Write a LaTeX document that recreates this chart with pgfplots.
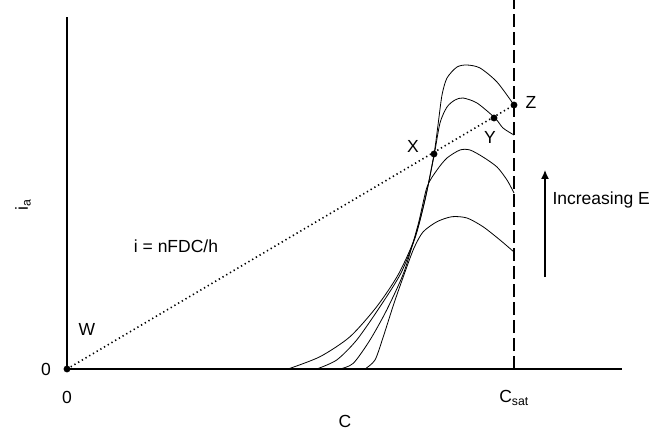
\documentclass[border=0pt]{standalone}
\usepackage{pgfplots}
\pgfplotsset{compat=1.18}
\usetikzlibrary{arrows.meta}
\usepackage{fontspec}
\setmainfont{Liberation Sans}
\newcommand{\lf}{\fontsize{17.5}{20}\selectfont}
\begin{document}
\begin{tikzpicture}
\begin{axis}[
  x=1pt, y=1pt,
  xmin=0, xmax=555, ymin=0, ymax=352,
  axis lines=left,
  axis line style={-, line width=1.6pt},
  ticks=none,
  clip=false,
]
% curves
\addplot[black, line width=0.8pt, smooth, tension=0.45] coordinates {
(221,0) (253,12.3) (283,32.3) (309.7,62.3) (331,94) (347,129) (358,169) (367,215)
(371,244) (375,274) (380,291) (390,302) (400,304) (413,301) (430,287) (447,264)};
\addplot[black, line width=0.8pt, smooth, tension=0.45] coordinates {
(249.7,0) (269.7,9) (289.7,29) (313,62.3) (334,96) (349,134) (359,174) (367,213)
(373,246) (380,262) (388,269) (396,271) (410,266) (428,251) (436,241) (447,234)};
\addplot[black, line width=0.8pt, smooth, tension=0.45] coordinates {
(273,0) (286.3,5.7) (303,29) (319.7,59) (337,97) (351,144) (360,182) (370,199)
(380,211) (393,219) (403,219) (416,212) (430,202) (440,189) (447,176)};
\addplot[black, line width=0.8pt, smooth, tension=0.45] coordinates {
(298,0) (308,9) (316.3,32.3) (327,65.7) (338,97) (347,121) (356,137) (370,147.3)
(385,152.3) (400,151) (416,142.3) (433,129) (447,117)};
% dashed saturation line
\addplot[black, line width=1.6pt, dash pattern=on 13pt off 5pt] coordinates {(447,0) (447,369)};
% dotted line
\addplot[black, line width=1.6pt, dash pattern=on 1.3pt off 3pt] coordinates {(0,0) (447,264)};
% points
\addplot[only marks, mark=*, mark size=3.2pt, black] coordinates {(0,0) (367,215) (427,251) (447,264)};
% arrow
\addplot[black, line width=1.3pt, -{Latex[length=9pt,width=8pt]}] coordinates {(478,92) (478,199)};
% labels
\node[anchor=west, font=\lf] at (axis cs:482,169) {Increasing E};
\node[font=\lf] at (axis cs:109,123) {i = nFDC/h};
\node[font=\lf] at (axis cs:20,40) {W};
\node[font=\lf] at (axis cs:346,223) {X};
\node[font=\lf] at (axis cs:423,232) {Y};
\node[font=\lf] at (axis cs:464,267) {Z};
\node[font=\lf] at (axis cs:-21,0) {0};
\node[font=\lf] at (axis cs:0,-28) {0};
\node[font=\lf] at (axis cs:447,-29) {C\textsubscript{sat}};
\node[font=\lf] at (axis cs:278,-52) {C};
\node[rotate=90, font=\lf] at (axis cs:-44,164) {i\textsubscript{a}};
\coordinate (bl) at (axis cs:-67,-65);
\coordinate (tr) at (axis cs:605,369);
\end{axis}
\pgfresetboundingbox
\path[use as bounding box] (bl) rectangle (tr);
\end{tikzpicture}
\end{document}
